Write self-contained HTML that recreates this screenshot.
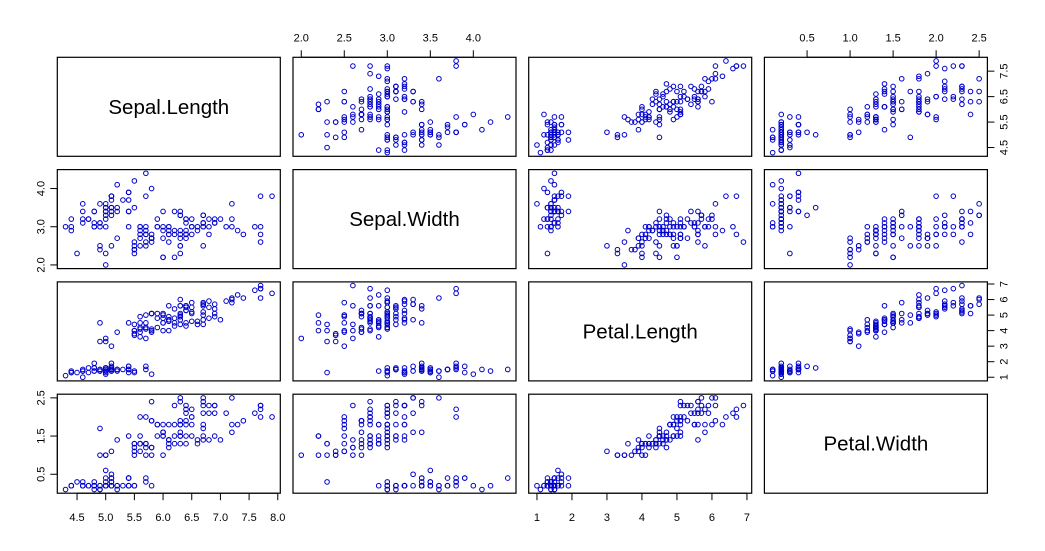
<!DOCTYPE html>
<html><head><meta charset="utf-8"><style>
html,body{margin:0;padding:0;background:#fff;}
svg{display:block;font-family:"Liberation Sans",Arial,sans-serif;}
</style></head><body>
<svg id="chart" width="1045" height="551" viewBox="0 0 1045 551" xmlns="http://www.w3.org/2000/svg"></svg>
<script>
const varNames = ["Sepal.Length","Sepal.Width","Petal.Length","Petal.Width"];
const sepalLength = [5.1,4.9,4.7,4.6,5.0,5.4,4.6,5.0,4.4,4.9,5.4,4.8,4.8,4.3,5.8,5.7,5.4,5.1,5.7,5.1,5.4,5.1,4.6,5.1,4.8,5.0,5.0,5.2,5.2,4.7,4.8,5.4,5.2,5.5,4.9,5.0,5.5,4.9,4.4,5.1,5.0,4.5,4.4,5.0,5.1,4.8,5.1,4.6,5.3,5.0,7.0,6.4,6.9,5.5,6.5,5.7,6.3,4.9,6.6,5.2,5.0,5.9,6.0,6.1,5.6,6.7,5.6,5.8,6.2,5.6,5.9,6.1,6.3,6.1,6.4,6.6,6.8,6.7,6.0,5.7,5.5,5.5,5.8,6.0,5.4,6.0,6.7,6.3,5.6,5.5,5.5,6.1,5.8,5.0,5.6,5.7,5.7,6.2,5.1,5.7,6.3,5.8,7.1,6.3,6.5,7.6,4.9,7.3,6.7,7.2,6.5,6.4,6.8,5.7,5.8,6.4,6.5,7.7,7.7,6.0,6.9,5.6,7.7,6.3,6.7,7.2,6.2,6.1,6.4,7.2,7.4,7.9,6.4,6.3,6.1,7.7,6.3,6.4,6.0,6.9,6.7,6.9,5.8,6.8,6.7,6.7,6.3,6.5,6.2,5.9];
const sepalWidth = [3.5,3.0,3.2,3.1,3.6,3.9,3.4,3.4,2.9,3.1,3.7,3.4,3.0,3.0,4.0,4.4,3.9,3.5,3.8,3.8,3.4,3.7,3.6,3.3,3.4,3.0,3.4,3.5,3.4,3.2,3.1,3.4,4.1,4.2,3.1,3.2,3.5,3.6,3.0,3.4,3.5,2.3,3.2,3.5,3.8,3.0,3.8,3.2,3.7,3.3,3.2,3.2,3.1,2.3,2.8,2.8,3.3,2.4,2.9,2.7,2.0,3.0,2.2,2.9,2.9,3.1,3.0,2.7,2.2,2.5,3.2,2.8,2.5,2.8,2.9,3.0,2.8,3.0,2.9,2.6,2.4,2.4,2.7,2.7,3.0,3.4,3.1,2.3,3.0,2.5,2.6,3.0,2.6,2.3,2.7,3.0,2.9,2.9,2.5,2.8,3.3,2.7,3.0,2.9,3.0,3.0,2.5,2.9,2.5,3.6,3.2,2.7,3.0,2.5,2.8,3.2,3.0,3.8,2.6,2.2,3.2,2.8,2.8,2.7,3.3,3.2,2.8,3.0,2.8,3.0,2.8,3.8,2.8,2.8,2.6,3.0,3.4,3.1,3.0,3.1,3.1,3.1,2.7,3.2,3.3,3.0,2.5,3.0,3.4,3.0];
const petalLength = [1.4,1.4,1.3,1.5,1.4,1.7,1.4,1.5,1.4,1.5,1.5,1.6,1.4,1.1,1.2,1.5,1.3,1.4,1.7,1.5,1.7,1.5,1.0,1.7,1.9,1.6,1.6,1.5,1.4,1.6,1.6,1.5,1.5,1.4,1.5,1.2,1.3,1.4,1.3,1.5,1.3,1.3,1.3,1.6,1.9,1.4,1.6,1.4,1.5,1.4,4.7,4.5,4.9,4.0,4.6,4.5,4.7,3.3,4.6,3.9,3.5,4.2,4.0,4.7,3.6,4.4,4.5,4.1,4.5,3.9,4.8,4.0,4.9,4.7,4.3,4.4,4.8,5.0,4.5,3.5,3.8,3.7,3.9,5.1,4.5,4.5,4.7,4.4,4.1,4.0,4.4,4.6,4.0,3.3,4.2,4.2,4.2,4.3,3.0,4.1,6.0,5.1,5.9,5.6,5.8,6.6,4.5,6.3,5.8,6.1,5.1,5.3,5.5,5.0,5.1,5.3,5.5,6.7,6.9,5.0,5.7,4.9,6.7,4.9,5.7,6.0,4.8,4.9,5.6,5.8,6.1,6.4,5.6,5.1,5.6,6.1,5.6,5.5,4.8,5.4,5.6,5.1,5.1,5.9,5.7,5.2,5.0,5.2,5.4,5.1];
const petalWidth = [0.2,0.2,0.2,0.2,0.2,0.4,0.3,0.2,0.2,0.1,0.2,0.2,0.1,0.1,0.2,0.4,0.4,0.3,0.3,0.3,0.2,0.4,0.2,0.5,0.2,0.2,0.4,0.2,0.2,0.2,0.2,0.4,0.1,0.2,0.2,0.2,0.2,0.1,0.2,0.2,0.3,0.3,0.2,0.6,0.4,0.3,0.2,0.2,0.2,0.2,1.4,1.5,1.5,1.3,1.5,1.3,1.6,1.0,1.3,1.4,1.0,1.5,1.0,1.4,1.3,1.4,1.5,1.0,1.5,1.1,1.8,1.3,1.5,1.2,1.3,1.4,1.4,1.7,1.5,1.0,1.1,1.0,1.2,1.6,1.5,1.6,1.5,1.3,1.3,1.3,1.2,1.4,1.2,1.0,1.3,1.2,1.3,1.3,1.1,1.3,2.5,1.9,2.1,1.8,2.2,2.1,1.7,1.8,1.8,2.5,2.0,1.9,2.1,2.0,2.4,2.3,1.8,2.2,2.3,1.5,2.3,2.0,2.0,1.8,2.1,1.8,1.8,1.8,2.1,1.6,1.9,2.0,2.2,1.5,1.4,2.3,2.4,1.8,1.8,2.1,2.4,2.3,1.9,2.3,2.5,2.3,1.9,2.0,2.3,1.8];
const ticksSepalLength = [4.5,5.0,5.5,6.0,6.5,7.0,7.5,8.0];
const ticksSepalLengthY = [4.5,5.5,6.5,7.5];
const ticksSepalWidth = [2.0,2.5,3.0,3.5,4.0];
const ticksSepalWidthY = [2.0,3.0,4.0];
const ticksPetalLength = [1,2,3,4,5,6,7];
const ticksPetalWidth = [0.5,1.0,1.5,2.0,2.5];
const ticksPetalWidthY = [0.5,1.5,2.5];

const data = [sepalLength, sepalWidth, petalLength, petalWidth];
const NS = "http://www.w3.org/2000/svg";
const svg = document.getElementById("chart");
const colX = [57.3, 293.0, 528.7, 764.4], panelW = 223;
const rowY = [57.3, 169.6, 281.9, 394.2], panelH = 99;
function mk(tag, attrs, parent){ const e=document.createElementNS(NS,tag); for(const k in attrs) e.setAttribute(k,attrs[k]); (parent||svg).appendChild(e); return e; }
function range(arr){ let mn=Math.min(...arr), mx=Math.max(...arr), d=(mx-mn)*0.04; return [mn-d, mx+d]; }
const ranges = data.map(range);
function sx(j,v){ const r=ranges[j]; return colX[j]+(v-r[0])/(r[1]-r[0])*panelW; }
function sy(i,v){ const r=ranges[i]; return rowY[i]+panelH-(v-r[0])/(r[1]-r[0])*panelH; }
function fmt(v,dec){ return v.toFixed(dec); }

for(let i=0;i<4;i++){
  for(let j=0;j<4;j++){
    const g = mk("g",{});
    
    
    const rect = mk("rect",{x:colX[j],y:rowY[i],width:panelW,height:panelH,fill:"none",stroke:"#000","stroke-width":1.2},g);
    
    
    if(i===j){
      const t = mk("text",{x:colX[j]+panelW/2,y:rowY[i]+panelH/2+7,"text-anchor":"middle","font-size":20.5,fill:"#000"},g);
      t.textContent = varNames[i];
      
      
    } else {
      const xs=data[j], ys=data[i];
      for(let k=0;k<xs.length;k++){
        const c = mk("circle",{cx:sx(j,xs[k]),cy:sy(i,ys[k]),r:2.3,fill:"none",stroke:"#0000cc","stroke-width":1},g);
        
        
      }
    }
  }
}
function xAxis(j, ticks, dec, top){
  const g=mk("g",{});
  
  
  const y0 = top ? rowY[0] : rowY[3]+panelH;
  const dir = top ? -1 : 1;
  mk("line",{x1:sx(j,ticks[0]),x2:sx(j,ticks[ticks.length-1]),y1:y0,y2:y0,stroke:"#000"},g);
  ticks.forEach(v=>{
    const x=sx(j,v);
    mk("line",{x1:x,x2:x,y1:y0,y2:y0+dir*7,stroke:"#000"},g);
    const t=mk("text",{x:x,y:top? y0-16 : y0+28,"text-anchor":"middle","font-size":11,fill:"#000"},g);
    t.textContent=fmt(v,dec);
    
    
  });
}
function yAxis(i, ticks, dec, right){
  const g=mk("g",{});
  
  
  const x0 = right ? colX[3]+panelW : colX[0];
  const dir = right ? 1 : -1;
  mk("line",{x1:x0,x2:x0,y1:sy(i,ticks[0]),y2:sy(i,ticks[ticks.length-1]),stroke:"#000"},g);
  ticks.forEach(v=>{
    const y=sy(i,v);
    mk("line",{x1:x0,x2:x0+dir*7,y1:y,y2:y,stroke:"#000"},g);
    const tx = right ? x0+20 : x0-13;
    const t=mk("text",{x:tx,y:y,"text-anchor":"middle","font-size":11,fill:"#000",transform:"rotate(-90 "+tx+" "+y+")"},g);
    t.textContent=fmt(v,dec);
    
    
  });
}
xAxis(0, ticksSepalLength, 1, false);
xAxis(1, ticksSepalWidth, 1, true);
xAxis(2, ticksPetalLength, 0, false);
xAxis(3, ticksPetalWidth, 1, true);
yAxis(0, ticksSepalLengthY, 1, true);
yAxis(1, ticksSepalWidthY, 1, false);
yAxis(2, ticksPetalLength, 0, true);
yAxis(3, ticksPetalWidthY, 1, false);
</script>
</body></html>
